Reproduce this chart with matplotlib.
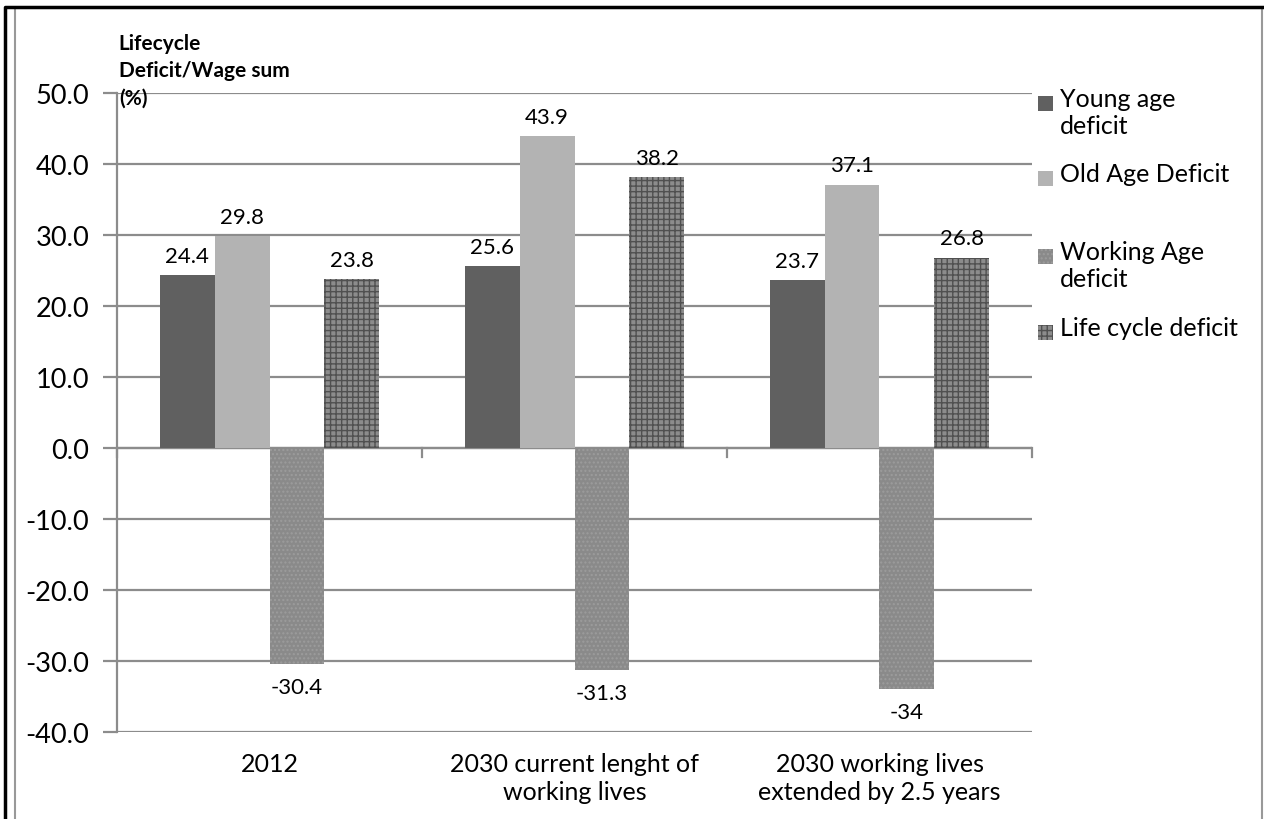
import matplotlib
matplotlib.use("Agg")
import matplotlib.pyplot as plt
from matplotlib.patches import Rectangle
from matplotlib.lines import Line2D
import numpy as np

plt.rcParams["font.family"] = ["Lato", "DejaVu Sans"]
plt.rcParams["hatch.linewidth"] = 1.0

categories = ["2012", "2030 current lenght of\nworking lives", "2030 working lives\nextended by 2.5 years"]
series_names = ["Young age\ndeficit", "Old Age Deficit", "Working Age\ndeficit", "Life cycle deficit"]
young = [24.4, 25.6, 23.7]
old = [29.8, 43.9, 37.1]
working = [-30.4, -31.3, -34.0]
lifecycle = [23.8, 38.2, 26.8]
working_labels = ["-30.4", "-31.3", "-34"]

# bar styles: face, hatch, hatch colour
styles = [
    ("#606060", None, "#606060"),
    ("#b3b3b3", None, "#b3b3b3"),
    ("#8a8a8a", "....", "#9c9c9c"),
    ("#8c8c8c", "+++", "#505050"),
]

W, H = 1264, 820
fig = plt.figure(figsize=(W / 100, H / 100), dpi=100)
ax = fig.add_axes([117 / W, 1 - 733 / H, (1032 - 117) / W, (733 - 94) / H])

x = np.arange(len(categories))
width = 0.18
all_series = [young, old, working, lifecycle]
for i, (vals, (fc, hatch, hc)) in enumerate(zip(all_series, styles)):
    pos = x - 1.5 * width + i * width
    ax.bar(pos, vals, width, color=fc, hatch=hatch, edgecolor=hc, linewidth=0, zorder=3)
    for j, (p, v) in enumerate(zip(pos, vals)):
        if v >= 0:
            ax.text(p, v + 1.3, f"{v:.1f}", ha="center", va="bottom", fontsize=16)
        else:
            ax.text(p, v - 1.8, working_labels[j], ha="center", va="top", fontsize=16)

ax.set_xlim(-0.5, 2.5)
ax.set_ylim(-40, 50)
yt = np.arange(-40, 51, 10)
ax.set_yticks(yt)
ax.set_yticklabels([f"{t:.1f}" for t in yt], fontsize=19.5)
ax.yaxis.grid(True, color="#8c8c8c", linewidth=1.6, zorder=0)
ax.set_axisbelow(True)
for s in ["top", "right", "bottom"]:
    ax.spines[s].set_visible(False)
ax.spines["left"].set_color("#8c8c8c")
ax.spines["left"].set_linewidth(1.6)
ax.tick_params(axis="y", length=10, width=1.6, color="#8c8c8c", pad=10)

# category axis sits on zero; labels go at the bottom
ax.set_xticks([])
ax.axhline(0, color="#8c8c8c", linewidth=1.6, zorder=2)
for b in np.arange(-0.5, 2.6, 1.0):
    ax.plot([b, b], [0, -1.2], color="#8c8c8c", linewidth=1.6, zorder=2, clip_on=False)
for xi, lab in zip(x, categories):
    ax.text(xi, -42.8, lab, ha="center", va="top", fontsize=18, linespacing=1.25)

ax.text(0.002, 1.0 + 60 / 639, "Lifecycle\nDeficit/Wage sum\n(%)", transform=ax.transAxes,
        ha="left", va="top", fontsize=15, fontweight="bold", linespacing=1.45, zorder=5)

# legend on the right
leg_y = [104, 179, 257, 333]
for name, (fc, hatch, hc), yy in zip(series_names, styles, leg_y):
    fy = 1 - yy / H
    fig.patches.append(Rectangle((1038 / W, fy - 7.5 / H), 15 / W, 15 / H,
                                 transform=fig.transFigure, facecolor=fc, hatch=hatch,
                                 edgecolor=hc, linewidth=0))
    fig.text(1060 / W, fy + 16 / H, name, ha="left", va="top", fontsize=18, linespacing=1.2)

# chart frame
gray = "#999999"
fig.add_artist(Line2D([15 / W, 15 / W, 1262 / W, 1262 / W], [0, 811 / H, 811 / H, 0],
                      transform=fig.transFigure, color=gray, linewidth=1.5))
fig.add_artist(Line2D([4.5 / W, 4.5 / W, 1], [0, 812.5 / H, 812.5 / H],
                      transform=fig.transFigure, color="black", linewidth=2.5))

fig.savefig("out.png", dpi=100)
